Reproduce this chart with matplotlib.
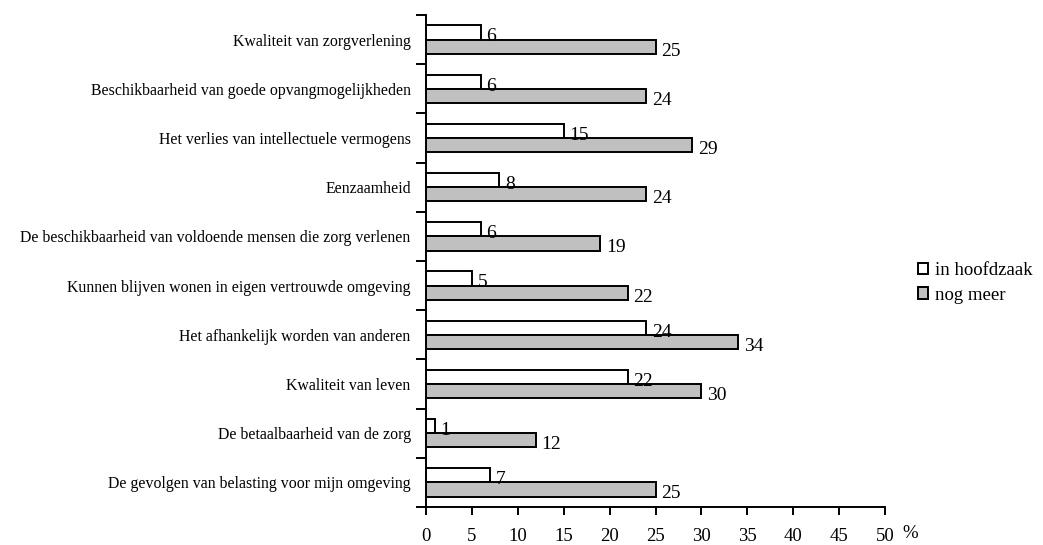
import matplotlib
matplotlib.use('Agg')
import matplotlib.pyplot as plt
import numpy as np

plt.rcParams['font.family'] = ['Liberation Serif', 'DejaVu Serif']

categories = ['Kwaliteit van zorgverlening',
              'Beschikbaarheid van goede opvangmogelijkheden',
              'Het verlies van intellectuele vermogens',
              'Eenzaamheid',
              'De beschikbaarheid van voldoende mensen die zorg verlenen',
              'Kunnen blijven wonen in eigen vertrouwde omgeving',
              'Het afhankelijk worden van anderen',
              'Kwaliteit van leven',
              'De betaalbaarheid van de zorg',
              'De gevolgen van belasting voor mijn omgeving']
hoofdzaak = [6, 6, 15, 8, 6, 5, 24, 22, 1, 7]
nog_meer = [25, 24, 29, 24, 19, 22, 34, 30, 12, 25]
xticks = list(range(0, 51, 5))

fig = plt.figure(figsize=(10.43, 5.45), dpi=100)
ax = fig.add_axes([426/1043, 1-507/545, (885-426)/1043, (507-15)/545])

y = np.arange(len(categories))
h = 0.29
ax.barh(y - h/2, hoofdzaak, height=h, color='white', edgecolor='black', linewidth=1.4, label='in hoofdzaak')
ax.barh(y + h/2, nog_meer, height=h, color='#c0c0c0', edgecolor='black', linewidth=1.4, label='nog meer')

for i in range(len(categories)):
    ax.text(hoofdzaak[i] + 0.6, y[i] - h/2 + 0.09, str(hoofdzaak[i]), va='center', ha='left', fontsize=14)
    ax.text(nog_meer[i] + 0.6, y[i] + h/2 + 0.09, str(nog_meer[i]), va='center', ha='left', fontsize=14)

ax.set_ylim(len(categories) - 0.5, -0.5)
ax.set_xlim(0, 50)
ax.set_yticks(y)
ax.set_yticklabels(categories, fontsize=11.4)
ax.tick_params(axis='y', length=0, pad=11)
ax.set_yticks(np.arange(-0.5, len(categories)), minor=True)
ax.tick_params(axis='y', which='minor', length=7, width=1.4)
ax.set_xticks(xticks)
ax.set_xticklabels([str(v) for v in xticks], fontsize=13.5)
ax.tick_params(axis='x', length=6, width=1.4, pad=9)
for s in ['top', 'right']:
    ax.spines[s].set_visible(False)
for s in ['left', 'bottom']:
    ax.spines[s].set_linewidth(1.4)

fig.text(902/1043, 1-533/545, '%', fontsize=13.5, va='center', ha='left')

fig.legend(loc='upper left', bbox_to_anchor=(905/1043, 1-249/545), frameon=False,
           fontsize=13.5, handlelength=0.5, handleheight=0.55, handletextpad=0.4,
           labelspacing=0.4, borderpad=0.2)

fig.savefig('out.png', dpi=100)
